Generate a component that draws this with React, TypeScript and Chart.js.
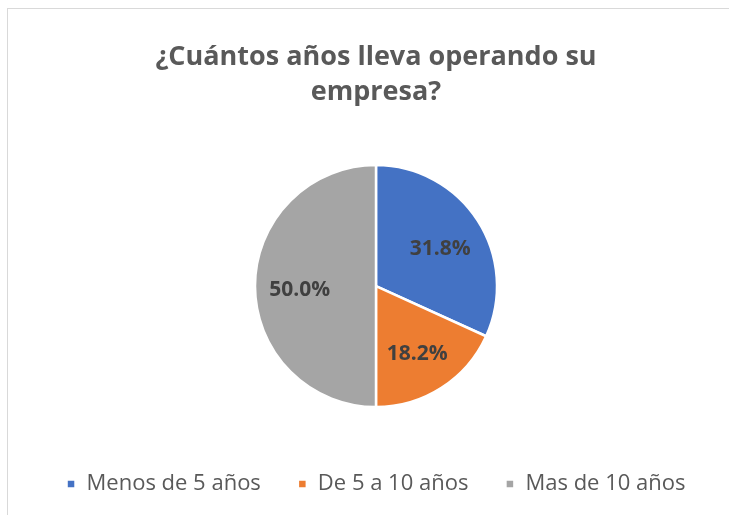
import React, { useEffect, useRef } from "react";
import { Chart, registerables } from "chart.js";

Chart.register(...registerables);

const categories = ["Menos de 5 años", "De 5 a 10 años", "Mas de 10 años"];
const values = [31.8, 18.2, 50.0];
const colors = ["#4472C4", "#ED7D31", "#A5A5A5"];
const titleLines = ["¿Cuántos años lleva operando su", "empresa?"];

const frame = {
  id: "frame",
  beforeDraw(chart: any) {
    const ctx = chart.ctx;
    ctx.save();
    ctx.fillStyle = "#ffffff";
    ctx.fillRect(0, 0, chart.width, chart.height);
    ctx.strokeStyle = "#d9d9d9";
    ctx.lineWidth = 1;
    ctx.strokeRect(7.5, 8.5, 740, 520);
    ctx.restore();
  },
};

const labelsPlugin = {
  id: "sliceLabels",
  afterDatasetsDraw(chart: any) {
    const ctx = chart.ctx;
    const meta = chart.getDatasetMeta(0);
    ctx.save();
    ctx.font = "bold 21px 'Open Sans'";
    ctx.fillStyle = "#404040";
    ctx.textAlign = "center";
    ctx.textBaseline = "middle";
    meta.data.forEach((arc: any, i: number) => {
      const p = arc.getProps(["x", "y", "startAngle", "endAngle", "outerRadius"], true);
      const mid = (p.startAngle + p.endAngle) / 2;
      const r = p.outerRadius * 0.63;
      ctx.fillText(values[i].toFixed(1) + "%", p.x + Math.cos(mid) * r, p.y + Math.sin(mid) * r + 4);
    });
    ctx.restore();
  },
};

export default function App() {
  const ref = useRef<HTMLCanvasElement>(null);
  useEffect(() => {
    const chart = new Chart(ref.current!, {
      type: "pie",
      data: {
        labels: categories,
        datasets: [
          {
            data: values,
            backgroundColor: colors,
            borderColor: "#ffffff",
            borderWidth: 2.5,
            radius: 121,
          },
        ],
      },
      options: {
        animation: false,
        responsive: false,
        layout: { padding: { left: 23, right: 0, top: 0, bottom: 10 } },
        plugins: {
          title: {
            display: true,
            text: titleLines,
            color: "#595959",
            font: { family: "'Open Sans'", size: 27, weight: "bold", lineHeight: 1.3 },
            padding: { top: 40, bottom: 26 },
          },
          legend: {
            position: "bottom",
            labels: {
              color: "#595959",
              font: { family: "'Open Sans'", size: 22 },
              boxWidth: 9,
              boxHeight: 9,
              padding: 37,
            },
          },
          tooltip: { enabled: false },
        },
      },
      plugins: [frame, labelsPlugin],
    });
    return () => chart.destroy();
  }, []);
  return (
    <div style={{ position: "fixed", left: 0, top: 0, width: 729, height: 515 }}>
      <canvas ref={ref} width={729} height={515} style={{ display: "block" }} />
    </div>
  );
}
